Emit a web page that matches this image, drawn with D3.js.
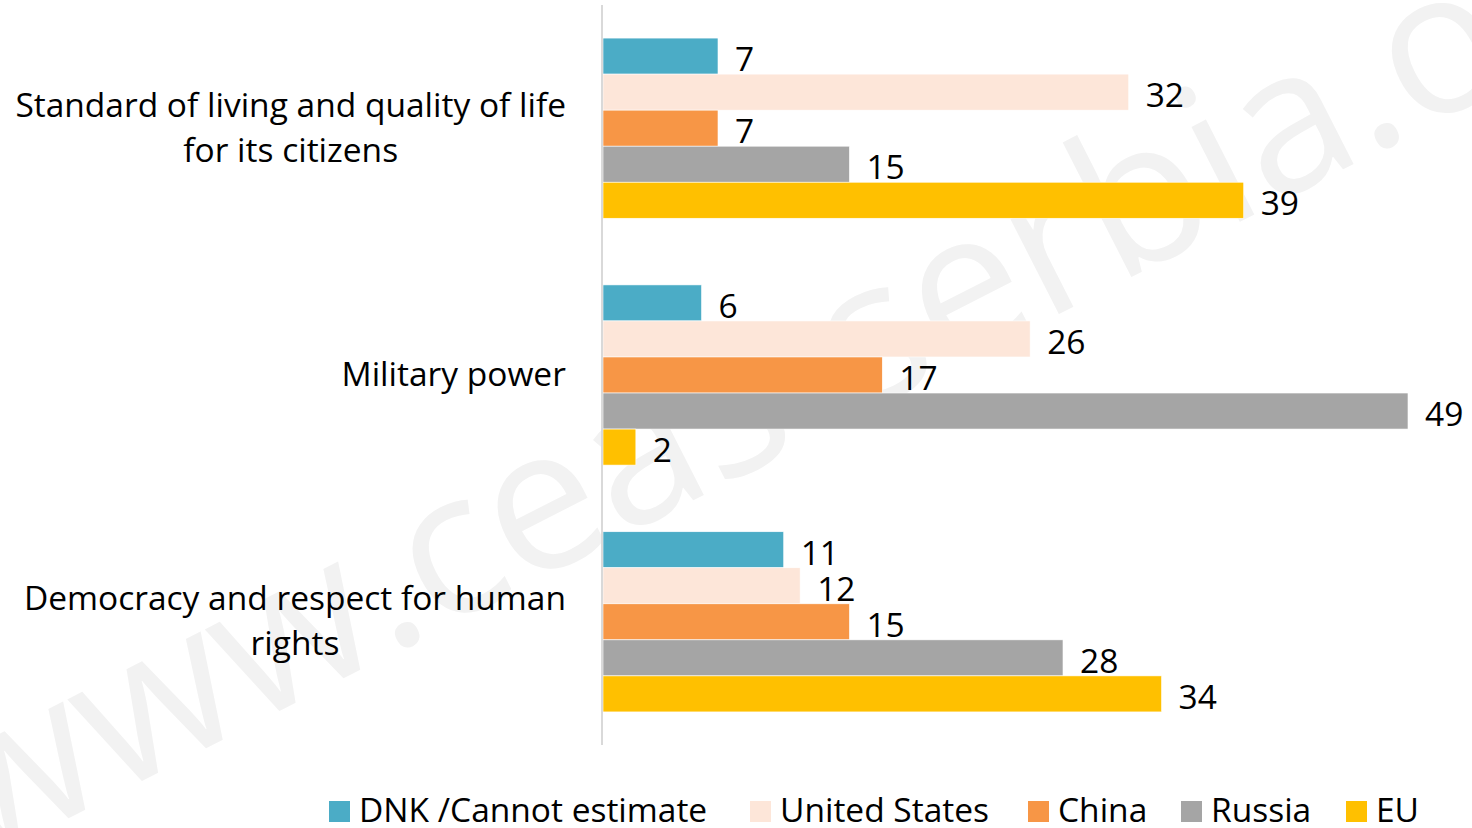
<!DOCTYPE html>
<html><head><meta charset="utf-8">
<script src="https://cdn.jsdelivr.net/npm/d3@7"></script>
<style>
html,body{margin:0;padding:0;background:#fff;}
svg{display:block;}
text{font-family:"Open Sans",Lato,sans-serif;fill:#000;}
</style></head>
<body>
<svg id="chart" width="1472" height="828"></svg>
<script>
const categories = [
  ["Standard of living and quality of life", "for its citizens"],
  ["Military power"],
  ["Democracy and respect for human", "rights"]
];
const seriesNames = ["DNK /Cannot estimate", "United States", "China", "Russia", "EU"];
const seriesColors = ["#4BACC6", "#FDE6D9", "#F79646", "#A5A5A5", "#FFC000"];
const dnk    = [7, 6, 11];
const usa    = [32, 26, 12];
const china  = [7, 17, 15];
const russia = [15, 49, 28];
const eu     = [39, 2, 34];
const seriesValues = [dnk, usa, china, russia, eu];
const watermark = "www.ceas-serbia.org";

const svg = d3.select("#chart");
const x0 = 603;
const FS = "33.5px";

// watermark
svg.append("text")
  .attr("transform", "translate(798,360) rotate(-27)")
  .attr("text-anchor", "middle")
  .attr("dominant-baseline", "central")
  .style("font-size", "199px")
  .style("fill", "#f2f2f2")
  .text(watermark);

const y0 = d3.scaleBand().domain(d3.range(categories.length)).range([5, 745]).paddingInner(0.27).paddingOuter(0.134);
const y1 = d3.scaleBand().domain(d3.range(seriesNames.length)).range([0, y0.bandwidth()]);
const x = d3.scaleLinear().domain([0, 49]).range([x0, 1408]);

const groups = svg.selectAll("g.grp").data(categories).join("g")
  .attr("transform", (d, i) => `translate(0,${y0(i)})`);

groups.each(function(cat, ci) {
  const g = d3.select(this);
  seriesValues.forEach((vals, si) => {
    g.append("rect")
      .attr("x", x(0)).attr("y", y1(si))
      .attr("width", x(vals[ci]) - x(0)).attr("height", y1.bandwidth())
      .attr("fill", seriesColors[si])
      .attr("stroke", "#ffffff").attr("stroke-width", 0.6);
    g.append("text")
      .attr("x", x(vals[ci]) + 17)
      .attr("y", y1(si) + y1.bandwidth() / 2 + 15)
      .style("font-size", FS)
      .text(vals[ci]);
  });
  // category label
  const lh = 45;
  const n = cat.length;
  const t = g.append("text")
    .attr("text-anchor", "middle")
    .style("font-size", FS);
  cat.forEach((line, li) => {
    t.append("tspan").attr("x", 0)
      .attr("y", y0.bandwidth() / 2 + (li - (n - 1) / 2) * lh + 11)
      .text(line);
  });
  const bb = t.node().getBBox();
  t.attr("transform", `translate(${566 - bb.width / 2},0)`);
});

// axis line
svg.append("line").attr("x1", 602).attr("x2", 602).attr("y1", 5).attr("y2", 745)
  .attr("stroke", "#d9d9d9").attr("stroke-width", 2);

// legend
const legendX = [329, 750, 1028, 1181, 1346];
const lg = svg.append("g");
seriesNames.forEach((name, i) => {
  lg.append("rect").attr("x", legendX[i]).attr("y", 801).attr("width", 21).attr("height", 21).attr("fill", seriesColors[i]);
  lg.append("text").attr("x", legendX[i] + 30).attr("y", 822)
    .style("font-size", FS).text(name);
});
</script>
</body></html>
